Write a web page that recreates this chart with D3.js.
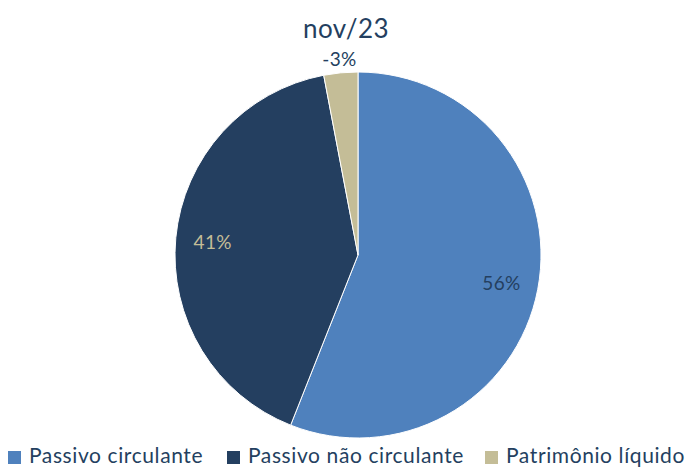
<!DOCTYPE html>
<html><head><meta charset="utf-8">
<script src="https://cdn.jsdelivr.net/npm/d3@7"></script>
<style>body{margin:0;background:#fff}svg{display:block}</style>
</head><body>
<svg id="c" width="687" height="468"></svg>
<script>
const title = "nov/23";
const categories = ["Passivo circulante", "Passivo não circulante", "Patrimônio líquido"];
const values = [56, 41, 3];
const labels = ["56%", "41%", "-3%"];
const colors = ["#4F81BD", "#243F60", "#C4BD97"];
const labelColors = ["#243F60", "#C4BD97", "#243F60"];

const svg = d3.select("#c");
const font = "Lato, 'Open Sans', sans-serif";
const cx = 358, cy = 255, r = 183;

svg.append("text").attr("x", 346).attr("y", 38).attr("text-anchor", "middle")
  .attr("font-family", font).attr("font-size", 26).attr("letter-spacing", 0.5)
  .attr("fill", "#243F60").text(title);

const pie = d3.pie().sort(null).value(d => d)(values);
const arc = d3.arc().innerRadius(0).outerRadius(r);
const g = svg.append("g").attr("transform", `translate(${cx},${cy})`);
g.selectAll("path").data(pie).join("path").attr("d", arc)
  .attr("fill", (d, i) => colors[i]).attr("stroke", "#fff").attr("stroke-width", 1);

const inArc = d3.arc().innerRadius(146).outerRadius(146);
const outArc = d3.arc().innerRadius(197).outerRadius(197);
g.selectAll("text.lbl").data(pie).join("text").attr("class", "lbl")
  .attr("transform", (d, i) => `translate(${(i === 2 ? outArc : inArc).centroid(d)})`)
  .attr("text-anchor", "middle").attr("dominant-baseline", "central")
  .attr("font-family", font).attr("font-size", 19).attr("letter-spacing", 0.3)
  .attr("fill", (d, i) => labelColors[i]).text((d, i) => labels[i]);

const legX = [8, 227, 485];
const leg = svg.append("g");
categories.forEach((c, i) => {
  leg.append("rect").attr("x", legX[i]).attr("y", 451).attr("width", 13).attr("height", 13).attr("fill", colors[i]);
  leg.append("text").attr("x", legX[i] + 21).attr("y", 463).attr("font-family", font)
    .attr("font-size", 21).attr("letter-spacing", 0.6).attr("fill", "#243F60").text(c);
});
</script>
</body></html>
